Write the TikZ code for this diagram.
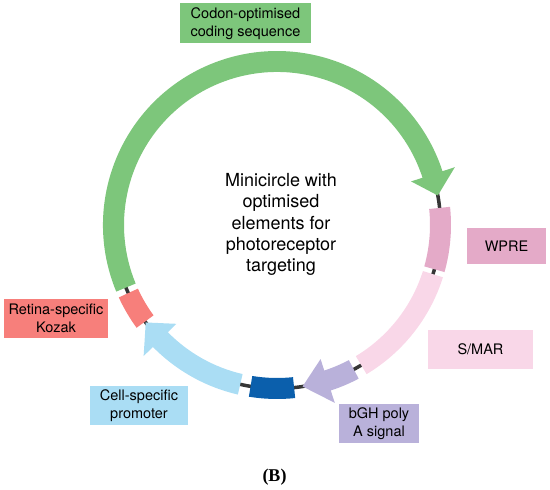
\documentclass[tikz,border=0pt]{standalone}
\usepackage{fontspec}
\setmainfont{TeX Gyre Heros}
\newfontfamily\panelfont{Liberation Serif}
\usetikzlibrary{calc}

\definecolor{cdsgreen}{HTML}{7DC67B}
\definecolor{wprepink}{HTML}{E4AAC8}
\definecolor{smarpink}{HTML}{F9D7E8}
\definecolor{bghviolet}{HTML}{B9B1DA}
\definecolor{spacerblue}{HTML}{0B5FAC}
\definecolor{promblue}{HTML}{AADDF4}
\definecolor{kozakred}{HTML}{F77F7B}
\definecolor{backbonegrey}{HTML}{363636}

\def\ringseg[#1](#2:#3){\fill[#1] ($(C)+(#2:174pt)$) arc (#2:#3:174pt) -- ($(C)+(#3:153pt)$) arc (#3:#2:153pt) -- cycle;}
\def\ringarrow[#1](#2:#3:#4){\fill[#1] ($(C)+(#2:174pt)$) arc (#2:#3:174pt) -- ($(C)+(#3:187pt)$) -- ($(C)+(#4:163.5pt)$) -- ($(C)+(#3:141pt)$) -- ($(C)+(#3:153pt)$) arc (#3:#2:153pt) -- cycle;}

\tikzset{
  elbox/.style={inner sep=0pt, align=center, font=\fontsize{14.5}{18}\selectfont},
  backbone/.style={line width=3.5pt, color=backbonegrey}
}

\begin{document}
\begin{tikzpicture}[x=1pt, y=1pt]
			%%%%% FRAME %%%%%
			\useasboundingbox (0, 0) rectangle (550, 490);
			\coordinate (C) at (277, 265);
			
			%%%%% BACKBONE %%%%%
			\draw[backbone] (C) circle[radius=163.5pt];
			
			%%%%% ELEMENTS %%%%%
			\ringarrow[fill=cdsgreen](202.5:18:10.4)
			\ringseg[fill=wprepink](6:-15.7)
			\ringseg[fill=smarpink](-17.5:-59)
			\ringarrow[fill=bghviolet](-62:-72:-81)
			\ringseg[fill=spacerblue](-84:-99.3)
			\ringarrow[fill=promblue](257:224.5:216.6)
			\ringseg[fill=kozakred](204.6:216.2)
			
			%%%%% LABELS %%%%%
			\node[elbox, fill=cdsgreen, minimum width=131pt, minimum height=40pt] (codon) at (245.5, 466.7) {Codon-optimised\\coding sequence};
			\node[elbox, fill=wprepink, minimum width=79pt, minimum height=36pt] (wpre) at (506.5, 244) {WPRE};
			\node[elbox, fill=smarpink, minimum width=105pt, minimum height=39pt] (smar) at (480.5, 140.5) {S/MAR};
			\node[elbox, fill=bghviolet, minimum width=80pt, minimum height=39pt] (bgh) at (379, 66.5) {bGH poly\\A signal};
			\node[elbox, fill=promblue, minimum width=97.5pt, minimum height=39pt] (promoter) at (139, 84.5) {Cell-specific\\promoter};
			\node[elbox, fill=kozakred, minimum width=104pt, minimum height=39pt] (kozak) at (56, 171.5) {Retina-specific\\Kozak};
			
			\node[align=center, inner sep=0pt, font=\fontsize{18}{21.25}\selectfont] (title) at (281, 265.5) {Minicircle with\\optimised\\elements for\\photoreceptor\\targeting};
			
			\node[inner sep=0pt, font=\panelfont\bfseries\fontsize{18}{20}\selectfont] (panel) at (274.5, 13) {(B)};
\end{tikzpicture}
\end{document}
